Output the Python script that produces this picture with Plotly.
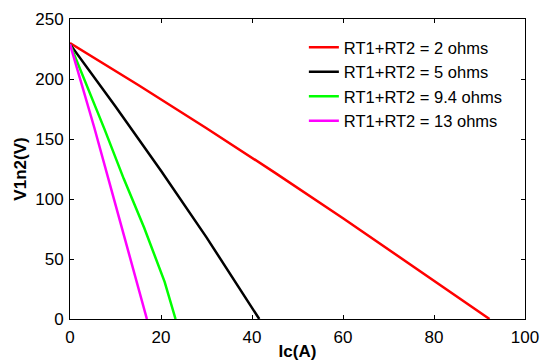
import plotly.graph_objects as go

# Data
ic_2 = [0, 15, 30, 45, 60, 75, 92.2]
v_2 = [230, 195, 159, 122, 84, 45, 0]

ic_5 = [0, 10, 20, 30, 41.6]
v_5 = [229, 177, 123.5, 68, 0]

ic_94 = [0, 7.6, 11.8, 16.3, 20.8, 23.2]
v_94 = [229, 158, 117, 76, 31, 0]

ic_13 = [0, 5.3, 8.5, 12.1, 15.6, 16.9]
v_13 = [229, 160, 116, 66, 17, 0]

names = ["RT1+RT2 = 2 ohms", "RT1+RT2 = 5 ohms", "RT1+RT2 = 9.4 ohms", "RT1+RT2 = 13 ohms"]
colors = ["#ff0000", "#000000", "#00ff00", "#ff00ff"]
xs = [ic_2, ic_5, ic_94, ic_13]
ys = [v_2, v_5, v_94, v_13]

x_ticks = [0, 20, 40, 60, 80, 100]
y_ticks = [0, 50, 100, 150, 200, 250]

FONT = "Arial, 'Liberation Sans', sans-serif"

fig = go.Figure()
for x, y, n, c in zip(xs, ys, names, colors):
    fig.add_trace(go.Scatter(x=x, y=y, mode="lines", name=n,
                             line=dict(color=c, width=2.5)))

axis_common = dict(showline=True, linecolor="black", linewidth=1, mirror="ticks",
                   ticks="inside", ticklen=4, tickcolor="black", showgrid=False,
                   zeroline=False, automargin=False,
                   tickfont=dict(family=FONT, size=17, color="black"))

fig.update_layout(
    width=542, height=361,
    margin=dict(l=70, r=17, t=19, b=42, autoexpand=False),
    paper_bgcolor="white", plot_bgcolor="white",
    font=dict(family=FONT, color="black"),
    xaxis=dict(range=[0, 100], tickvals=x_ticks, ticklabelstandoff=3,
               title=dict(text="<b>Ic(A)</b>", font=dict(family=FONT, size=17), standoff=0),
               **axis_common),
    yaxis=dict(range=[0, 250], tickvals=y_ticks, ticklabelstandoff=2,
               title=dict(text="<b>V1n2(V)</b>", font=dict(family=FONT, size=17), standoff=4),
               **axis_common),
    legend=dict(x=0.514, y=0.963, xanchor="left", yanchor="top",
                bgcolor="rgba(255,255,255,0)", borderwidth=0,
                font=dict(family=FONT, size=16.5, color="black"),
                tracegroupgap=0),
    showlegend=True,
)

fig.write_html("out.html")
